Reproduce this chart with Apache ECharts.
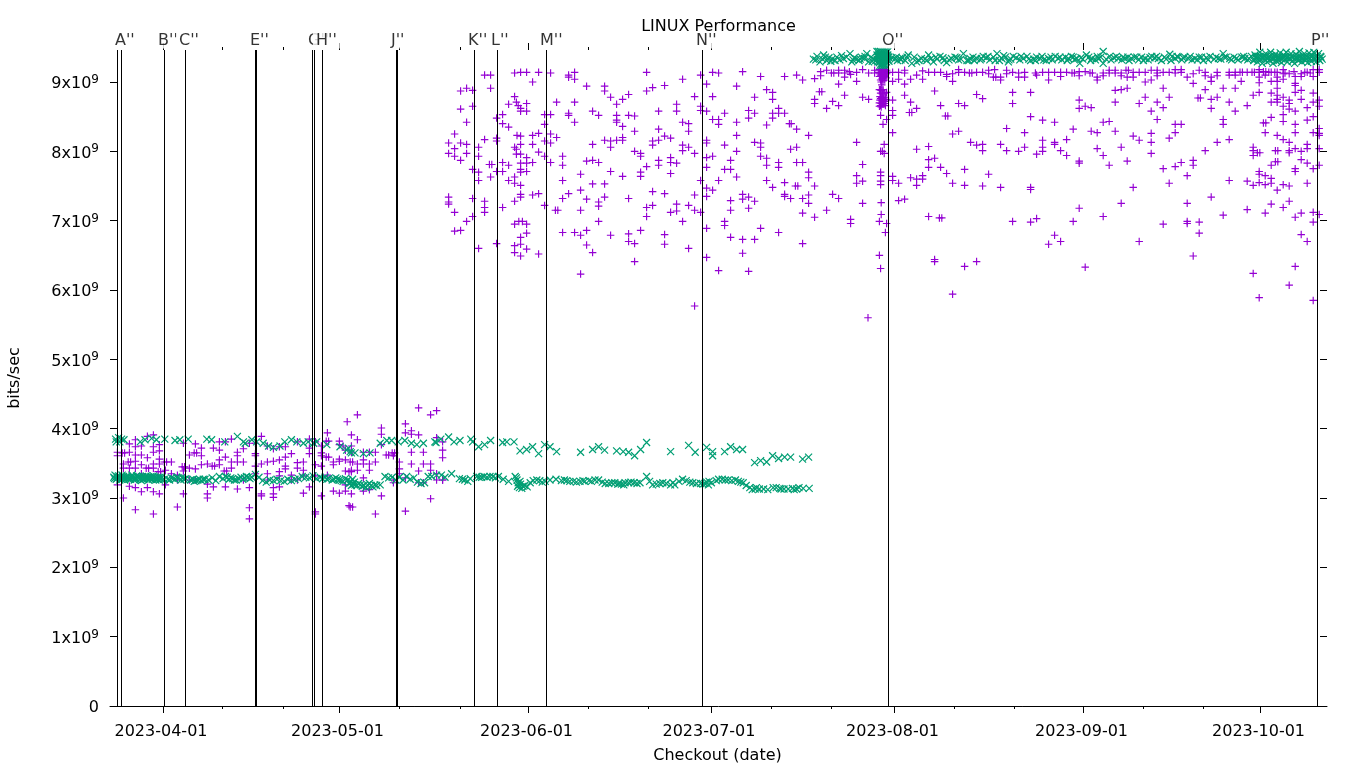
<!DOCTYPE html>
<html><head><meta charset="utf-8">
<style>html,body{margin:0;padding:0;background:#fff}#c{width:1360px;height:768px}</style>
<script src="https://cdn.jsdelivr.net/npm/echarts@6/dist/echarts.min.js"></script>
</head><body><div id="c"></div>
<script>
// x is the position on the date axis in days after the 2023-04-01 tick; y is in units of 1e9 bits/sec
const xMajorTicks=[0,29.42,60.92,91.33,121.92,153.42,182.92];
const xMajorLabels=['2023-04-01','2023-05-01','2023-06-01','2023-07-01','2023-08-01','2023-09-01','2023-10-01'];
const xMinorTicks=[9.92,20.08,39.42,49.58,70.92,80.92,101.33,111.42,131.92,141.92,163.42,173.42];
const yTicks=[0,1,2,3,4,5,6,7,8,9];
const checkoutDays=[-7.583,-6.917,0.25,3.75,15.417,15.583,24.917,25.25,26.583,38.917,39.083,51.917,55.75,63.917,89.917,120.917,192.417];
const checkoutLabels=[[-6.917,"A''"],[0.25,"B''"],[3.75,"C''"],[15.583,"E''"],[25.25,"G''"],[26.583,"H''"],[39.083,"J''"],[51.917,"K''"],[55.75,"L''"],[63.917,"M''"],[89.917,"N''"],[120.917,"O''"],[192.417,"P''"]];

const purpleMiddle=[[53.6,9.10],[54.6,9.10],[58.6,9.13],[59.6,9.14],[60.6,9.14],[62.6,9.14],[64.6,9.13],[67.6,9.10],[67.6,9.07],[68.6,9.14],[68.6,9.04],[80.6,9.14],[86.6,9.04],[89.6,9.10],[91.6,9.14],[92.6,9.13],[96.6,9.15],[99.6,9.08],[103.6,9.08],[105.6,9.10],
[61.6,9.00],[70.6,8.94],[73.6,8.94],[73.6,8.87],[81.6,8.92],[83.6,8.95],[80.6,8.87],[77.6,8.82],[88.6,8.79],[90.6,8.97],[95.6,8.94],[100.6,8.89],[101.6,8.85],[98.6,8.78],[101.6,8.75],[91.6,8.79],[49.6,8.87],[50.6,8.91],[51.6,8.88],[54.6,8.91],
[58.6,8.79],[74.6,8.78],[76.6,8.75],[75.6,8.68],[85.6,8.68],[85.6,8.58],[65.6,8.71],[68.6,8.71],[57.6,8.68],[58.9,8.71],[59.2,8.66],[60.6,8.69],[59.6,8.62],[59.6,8.58],[60.6,8.58],[49.6,8.61],[51.6,8.65],[89.6,8.65],[89.6,8.59],[90.6,8.58],[93.6,8.55],[97.6,8.59],[98.6,8.55],[101.6,8.55],[102.6,8.62],[102.6,8.55],[103.6,8.55],
[56.6,8.53],[55.6,8.48],[56.6,8.40],[57.6,8.35],[63.6,8.53],[64.6,8.53],[67.6,8.55],[67.6,8.52],[71.6,8.58],[72.6,8.52],[75.6,8.52],[77.6,8.52],[78.6,8.51],[82.6,8.58],[50.6,8.42],[63.6,8.39],[68.6,8.42],[75.6,8.45],[75.6,8.42],[76.6,8.36],[86.6,8.42],[87.6,8.40],[91.6,8.46],[92.6,8.46],[92.6,8.39],[95.6,8.42],[97.6,8.48],[101.6,8.48],[100.6,8.38],[104.4,8.40],[104.7,8.40],[105.6,8.32],
[48.6,8.25],[78.6,8.29],[82.6,8.32],[87.6,8.29],[95.6,8.23],
[53.6,8.17],[55.6,8.19],[55.6,8.15],[59.6,8.22],[59,8.23],[61.6,8.23],[62.6,8.26],[64.6,8.25],[65.6,8.20],[73.6,8.16],[74.6,8.15],[75.6,8.16],[76.6,8.20],[76.6,8.16],[83.6,8.22],[84.6,8.19],[82.6,8.16],[81.6,8.15],[81.6,8.09],[90.6,8.16],[90.6,8.12],[98.6,8.13],[99.6,8.12],[99.6,8.06],
[47.6,8.12],[48.6,8.04],[49.6,8.12],[50.6,8.10],[52.6,8.06],[58.6,8.06],[59.6,8.10],[61.6,8.10],[63.6,8.15],[64.6,8.12],[71.6,8.10],[74.6,8.06],[86.6,8.09],[87.6,8.06],[86.6,8.01],[93.6,8.09],[95.6,8.00],[104.6,8.03],[105.6,8.06],
[47.6,7.97],[48.6,7.93],[49.6,7.87],[50.6,7.97],[52.6,7.93],[58.9,8.03],[58.9,7.96],[59.6,7.96],[62.6,7.99],[60.6,7.91],[63.6,7.93],[66.6,7.93],[78.6,8.00],[79.6,7.97],[79.6,7.93],[88.6,7.97],[90.6,7.91],[91.6,7.93],[99.6,7.93],[94.6,7.87],[100.6,7.90],
[56.6,7.84],[57.6,7.80],[54.4,7.81],[54.8,7.81],[59.6,7.83],[60.6,7.83],[61.6,7.84],[64.6,7.84],[66.6,7.80],[70.6,7.86],[71.6,7.87],[72.6,7.84],[80.6,7.78],[82.6,7.87],[82.6,7.80],[84.6,7.91],[84.6,7.84],[85.6,7.83],[90.6,7.77],[100.6,7.80],[102.6,7.84],[102.6,7.77],[105.6,7.84],
[51.6,7.74],[52.6,7.70],[55.6,7.71],[56.6,7.71],[54.6,7.63],[52.6,7.58],[59.6,7.74],[59.6,7.70],[60.6,7.71],[69.6,7.67],[74.6,7.71],[76.6,7.64],[79.6,7.70],[79.6,7.64],[84.6,7.68],[93.6,7.74],[94.6,7.74],[95.6,7.63],[57.6,7.58],[58.6,7.63],[58.6,7.54],[59.6,7.51],[66.6,7.58],[89.6,7.58],[92.6,7.58],[100.6,7.58],[103.6,7.55],
[71.6,7.53],[73.6,7.53],[90.6,7.47],[91.6,7.44],[101.6,7.48],[105.4,7.50],[105.8,7.50],[69.6,7.44],[81.6,7.42],[83.6,7.39],[67.6,7.39],[66.6,7.32],[59.6,7.38],[59.6,7.34],[61.6,7.37],[62.6,7.39],[88.6,7.37],[90.6,7.35],[96.6,7.38],[103.6,7.38],[103.6,7.35],
[47.6,7.34],[51.6,7.32],[47.6,7.27],[47.6,7.24],[53.6,7.28],[58.6,7.28],[53.6,7.19],[56.6,7.19],[63.6,7.22],[70.6,7.31],[72.6,7.27],[73.6,7.34],[77.6,7.32],[72.6,7.21],[81.6,7.22],[80.6,7.19],[85.6,7.24],[85.6,7.14],[87.6,7.22],[94.6,7.29],[96.6,7.31],[97.6,7.34],[98.6,7.28],[104.6,7.32],
[48.6,7.12],[53.6,7.12],[51.6,7.06],[65.4,7.15],[65.8,7.15],[69.6,7.15],[80.6,7.06],[84.6,7.12],[88.6,7.15],[89.6,7.12],[94.6,7.15],[97.6,7.18],
[50.6,6.99],[48.6,6.85],[49.6,6.86],[58.6,6.95],[59.3,6.99],[59.9,6.99],[60.6,6.95],[72.6,6.99],[86.6,6.99],[93.6,6.99],[93.6,6.93],[99.6,6.89],[90.6,6.89],
[60.6,6.82],[59.6,6.76],[66.6,6.83],[68.6,6.83],[69.6,6.79],[70.6,6.86],[74.6,6.79],[77.6,6.81],[79.6,6.86],[83.6,6.80],[94.6,6.76],[96.6,6.73],[98.6,6.73],[102.6,6.83],
[52.6,6.60],[55.6,6.67],[58.6,6.64],[59.6,6.66],[58.6,6.54],[60.6,6.59],[59.6,6.49],[62.6,6.52],[70.6,6.65],[71.6,6.54],[77.6,6.70],[78.6,6.67],[83.6,6.66],[87.6,6.60],[90.6,6.47],[96.6,6.53],
[78.6,6.41],[69.6,6.23],[92.6,6.28],[97.6,6.27],[88.6,5.77]];

const purpleAugust=[[106.6,9.03],[108.6,9.05],[109.6,9.15],[109.6,9.09],[110.6,9.17],[111.4,9.13],[111.8,9.13],[112.6,9.17],[112.6,9.13],[113.6,9.17],[113.6,9.13],[113.6,9.07],[114.4,9.15],[114.6,9.11],[115.6,9.14],[115.6,9.01],[116.6,9.18],[117.6,9.13],[118.6,9.17],[118.6,9.13],
[119.6,9.14],[119.6,9.10],[119.6,9.03],[120,9.14],[120,9.1],[120.3,9.12],[120.6,9.12],[119.8,9.16],[120.2,9.08],[119.9,9.05],[120.4,9.15],[121.6,9.14],[121.6,9.01],[122.6,9.14],[122.6,9.04],[123.6,9.17],[123.6,9.13],[123.6,8.97],[124.6,9.04],[125.6,9.10],[126.6,9.16],[126.6,9.04],[127.6,9.14],[128.6,9.14],[129.6,9.14],[130.6,9.11],[130.6,9.08],[131.6,9.12],[131.6,9.01],[132.6,9.18],[132.6,9.14],[133.6,9.14],[134.4,9.13],[134.8,9.13],[135.6,9.14],[136.6,9.14],[137.6,9.17],[137.6,9.12],[138.6,9.18],[138.4,9.07],[138.8,9.07],[139.6,9.07],[139.6,9.03],[140.6,9.17],[140.6,9.12],[141.6,9.14],[142.6,9.13],[142.6,9.07],[143.6,9.14],[143.6,9.07],[145.6,9.10],[145.4,9.13],[146.6,9.14],[147.6,9.14],[147.6,9.03],[148.6,9.14],[149.6,9.14],[149.6,9.08],[150.6,9.14],
[112.6,8.97],[109.4,8.86],[109.8,8.86],[108.6,8.75],[108.6,8.69],[113.6,8.81],[111.6,8.72],[112.6,8.66],[110.6,8.62],[116.6,8.78],[117.6,8.75],[119.6,8.89],[120,8.89],[120.6,8.85],[119.6,8.76],[119.9,8.72],[120.2,8.72],[120.5,8.75],[119.6,8.66],[120.4,8.66],[120,8.69],[119.8,8.78],[121.6,8.74],[123.6,8.81],[124.6,8.71],[125.6,8.62],[128.6,8.87],[129.6,8.66],[132.6,8.69],[133.6,8.66],[135.6,8.82],[136.6,8.76],[141.6,8.85],[141.6,8.69],[144.6,8.85],
[124.4,8.56],[124.8,8.56],[121.6,8.59],[121.6,8.52],[119.6,8.52],[120.6,8.46],[120,8.39],[130.4,8.51],[130.8,8.51],[121.6,8.27],[131.6,8.25],[132.6,8.29],[140.6,8.33],[144.6,8.50],[146.6,8.45],[148.6,8.42],[143.6,8.27],[107.6,8.23],[115.6,8.13],[120.2,8.10],[125.6,8.03],[127.6,8.07],[134.6,8.13],[135.6,8.09],[136.6,8.10],[136.6,8.01],[139.6,8.10],[140.6,8.01],[142.6,8.00],[143.6,8.06],[146.6,8.16],[146.6,8.06],[146.6,8.00],[145.6,7.96],[148.6,8.13],[148.6,8.10],[149.6,8.01],[150.6,8.17],[150.6,7.94],[119.6,8.00],[119.9,8.00],[120.2,7.97],
[106.6,7.84],[116.6,7.81],[127.6,7.88],[127.6,7.77],[128.6,7.90],[129.6,7.77],[133.6,7.74],[130.6,7.68],[107.6,7.70],[107.6,7.62],[115.6,7.65],[115.6,7.54],[116.6,7.57],[119.6,7.70],[119.6,7.65],[119.6,7.57],[119.6,7.52],[121.6,7.64],[121.6,7.58],[122.6,7.54],[124.6,7.62],[125.6,7.60],[125.6,7.51],[126.6,7.65],[126.6,7.60],[137.6,7.67],[131.6,7.54],[133.6,7.51],[136.6,7.50],[139.6,7.48],[144.6,7.48],[144.6,7.45],[108.6,7.50],
[106.6,7.32],[107.6,7.37],[107.6,7.25],[111.6,7.38],[112.6,7.32],[116.6,7.25],[119.7,7.26],[122.6,7.29],[123.6,7.31],[106.6,7.11],[108.6,7.05],[110.6,7.15],[114.6,7.02],[114.6,6.96],[119.7,7.09],[119.4,6.99],[120.6,6.96],[127.6,7.06],[129.4,7.04],[129.8,7.04],[141.6,6.99],[144.6,6.98],[145.6,7.03],[120.4,6.83],[106.6,6.67],[119.4,6.50],[119.6,6.31],[128.6,6.44],[128.6,6.41],[133.6,6.34],[135.6,6.41],[148.6,6.79],[149.6,6.70],[147.6,6.66],[131.6,5.94],[117.5,5.60]];

const purpleClusterO=[[119.4,9.18],[119.7,9.18],[120,9.18],[120.3,9.18],[120.6,9.17],[119.3,9.14],[119.5,9.12],[119.8,9.12],[120.1,9.15],[120.4,9.12],[120.7,9.14],[119.4,9.08],[119.7,9.08],[120,9.06],[120.3,9.09],[120.5,9.06],[119.7,9.0],[120,9.02],[120.3,9.03],[119.8,8.96],
[119.4,8.89],[119.7,8.88],[120,8.87],[119.6,8.84],[119.9,8.83],[120.2,8.84],[119.5,8.79],[119.8,8.78],[120.1,8.77],[120.4,8.78],[119.5,8.74],[119.8,8.74],[120.1,8.73],[120.4,8.72],[119.4,8.70],[119.7,8.69],[120,8.68],[120.3,8.69],[119.4,8.65],[119.7,8.64]];

const purpleSeptember=[[151.5,9.13],[151.9,9.13],[152.7,9.15],[152.7,9.09],[153.7,9.15],[154.5,9.13],[154.9,9.13],[155.7,9.07],[155.7,9.03],[156.7,9.13],[156.7,9.09],[157.7,9.17],[157.7,9.13],[158.7,9.17],[158.7,9.13],[159.7,9.13],[159.7,9.09],[160.5,9.17],[160.9,9.17],[160.7,9.07],[161.7,9.14],[161.7,9.07],[162.7,9.14],[163.7,9.14],[163.7,9.00],[164.7,9.17],[164.7,9.03],[165.7,9.17],[165.7,9.13],[165.7,9.09],[166.7,9.14],[167.7,9.14],[168.7,9.18],[168.7,9.13],[169.7,9.18],[169.7,9.14],[170.7,9.07],[171.7,9.12],[171.7,8.98],[172.7,9.17],[173.7,9.14],[173.7,9.09],[174.7,9.07],[174.7,9.01],[175.7,9.14],[175.7,9.09],[177.7,9.14],[177.7,9.10],[178.7,9.14],[178.7,9.10],[179.5,9.14],[179.9,9.14],[179.7,9.01],[180.7,9.14],[181.5,9.14],[181.9,9.14],[182.7,9.18],[182.7,9.14],[182.7,9.07],[182.7,8.99],[183.4,9.15],[183.8,9.15],[183.7,9.10],[184.7,9.14],[184.7,9.01],[185.7,9.14],[185.7,9.07],[185.7,9.01],[186.7,9.18],[186.7,9.12],[186.7,9.04],[187.7,9.12],[188.5,9.15],[188.7,9.08],[188.7,8.98],[189.7,9.12],[189.7,9.08],[190.7,9.14],[191.7,9.18],[191.7,9.08],[192.7,9.18],[192.7,9.14],[184.3,9.14],[185.3,9.14],[187,9.13],[190.3,9.14],[191.2,9.13],
[158.7,8.88],[159.7,8.89],[160.7,8.91],[166.7,8.91],[173.7,8.89],[176.7,8.91],[178.7,8.91],[181.7,8.81],[182.7,8.85],[184.7,8.84],[185.7,8.91],[185.7,8.81],[188.7,8.95],[188.7,8.85],[189.7,8.88],[191.7,8.84],
[152.7,8.74],[152.7,8.62],[153.7,8.65],[154.7,8.63],[158.7,8.71],[162.7,8.69],[163.7,8.78],[164.7,8.58],[165.7,8.71],[166.7,8.63],[167.7,8.78],[172.5,8.77],[172.9,8.77],[174.7,8.75],[174.7,8.62],[175.7,8.78],[177.7,8.71],[178.7,8.58],[180.7,8.66],[184.7,8.71],[185.7,8.75],[185.7,8.71],[186.7,8.78],[186.7,8.65],[187.7,8.74],[187.7,8.69],[187.7,8.61],[188.7,8.58],[189.7,8.75],[190.7,8.63],[191.7,8.71],[192.7,8.74],[192.7,8.65],
[165.7,8.46],[156.7,8.42],[157.7,8.43],[168.7,8.39],[169.7,8.39],[176.7,8.46],[176.7,8.39],[183.4,8.41],[183.8,8.41],[184.7,8.49],[186.7,8.53],[186.7,8.43],[191.7,8.50],[190.7,8.45],[188.7,8.39],
[151.7,8.32],[154.7,8.29],[155.7,8.27],[158.7,8.29],[161.7,8.22],[162.7,8.16],[164.7,8.26],[164.7,8.13],[167.7,8.19],[168.7,8.27],[175.7,8.13],[177.7,8.17],[183.7,8.27],[185.7,8.23],[186.7,8.17],[187.7,8.13],[188.7,8.27],[191.7,8.27],[192.7,8.33],[192.7,8.26],[192.7,8.23],
[155.7,8.04],[159.7,8.06],[156.7,7.94],[164.7,7.97],[173.7,8.01],[181.7,8.06],[181.7,8.01],[181.7,7.94],[182.4,7.98],[182.8,7.98],[185.4,8.01],[185.8,8.01],[187.7,8.01],[187.7,7.98],[188.7,8.04],[189.7,8.00],[190.7,8.10],[190.7,8.04],[192.7,8.04],
[152.7,7.86],[152.7,7.83],[157.7,7.80],[160.7,7.86],[166.7,7.75],[168.7,7.78],[169.7,7.84],[171.7,7.87],[171.7,7.80],[170.7,7.65],[189.7,7.88],[185.4,7.85],[185.8,7.85],[184.7,7.80],[190.7,7.83],[191.7,7.75],[192.7,7.80],[188.7,7.75],[188.7,7.71],
[182.7,7.71],[182.7,7.67],[183.7,7.65],[184.7,7.61],[184.7,7.54],[177.7,7.58],[180.7,7.57],[181.7,7.51],[182.7,7.55],[183.7,7.52],[186.7,7.52],[187.7,7.50],[190.7,7.54],[167.7,7.54],[161.7,7.48],[185.7,7.44],
[174.7,7.34],[159.7,7.25],[170.7,7.25],[152.7,7.18],[156.7,7.06],[180.7,7.16],[176.7,7.08],[184.7,7.24],[183.7,7.11],[186.7,7.19],[187.7,7.28],[188.7,7.05],[189.7,7.11],[191.7,7.12],[192.7,7.09],
[151.7,6.99],[166.7,6.95],[170.7,6.99],[170.7,6.96],[172.7,6.98],[191.7,6.98],[172.7,6.82],[162.7,6.70],[189.7,6.80],[190.7,6.70],[171.7,6.49],[153.7,6.33],[181.7,6.24],[188.7,6.34],[187.7,6.07],[182.7,5.89],[191.7,5.85]];

const purpleLower=[[16.4,3.89],[-2.6,3.89],[-1.6,3.91],[11.4,3.85],[24.4,3.85],[27.4,3.94],[27.2,3.82],[27.6,3.82],[29.4,3.82],[31.4,3.91],[32.4,3.84],[30.7,4.10],[32.4,4.20],[36.4,4.01],[36.4,3.92],[40.4,4.07],[40.4,3.94],[41.4,3.97],[41.4,3.92],[42.6,3.91],[44.6,4.20],[42.6,4.30],[45.6,4.26],[45.6,3.87],
[-5.6,3.78],[-4.6,3.84],[-4.6,3.74],[-5.6,3.66],[-3.6,3.75],[-1.6,3.74],[-0.6,3.77],[-0.6,3.68],[-1.6,3.66],[-6.8,3.65],[-6.4,3.65],[-7.6,3.66],[-7.6,3.61],[-4.6,3.62],[-3.6,3.62],[-2.6,3.58],[-4.6,3.53],[-5.8,3.52],[-5.4,3.52],[-6.6,3.49],[-6.6,3.43],[-5.6,3.43],[-3.6,3.48],[-1.6,3.49],[-0.6,3.56],[-0.6,3.49],[0.2,3.52],[0.6,3.52],[1.4,3.52],[-1.6,3.43],[-2.8,3.43],[-2.4,3.43],[-4.6,3.43],[-3.6,3.35],[-0.8,3.38],[-0.4,3.38],[0.4,3.40],[1.4,3.35],[2.4,3.33],
[3.4,3.79],[5.4,3.78],[6.4,3.72],[8.4,3.72],[9.4,3.81],[9.4,3.69],[10.4,3.81],[5.2,3.65],[5.6,3.65],[4.4,3.62],[6.4,3.61],[10.4,3.59],[9.4,3.55],[12.4,3.66],[12.4,3.61],[13.4,3.71],[14.4,3.79],[15.4,3.79],[15.4,3.64],[15.4,3.61],[13.4,3.52],[12.4,3.52],[11.4,3.52],[6.4,3.48],[7.4,3.49],[8.2,3.46],[8.6,3.46],[4.4,3.43],[5.4,3.42],[3.2,3.45],[3.6,3.45],[3.4,3.39],[9.4,3.48],[11.4,3.43],[10.2,3.39],[10.6,3.39],[15.4,3.46],
[17.4,3.75],[18.4,3.71],[19.4,3.74],[20.4,3.74],[22.4,3.81],[21.4,3.64],[20.4,3.59],[19.4,3.55],[18.4,3.53],[17.4,3.52],[16.4,3.49],[20.4,3.46],[20.4,3.42],[22.4,3.51],[23.4,3.52],[22.4,3.43],[23.4,3.40],[24.4,3.72],[24.4,3.64],[25.4,3.81],[26.4,3.75],[26.4,3.65],[26.4,3.61],[27.2,3.59],[27.6,3.59],[28.4,3.52],[28.4,3.48],[29.4,3.56],[29.4,3.53],[30.4,3.55],[25.4,3.48],[26.4,3.46],[29.4,3.77],[30,3.75],[30.4,3.69],[31.4,3.66],[31.4,3.75],[33.4,3.66],[33.4,3.55],[33.4,3.49],[34.4,3.66],[35.4,3.66],[35.4,3.52],[34.4,3.49],[34.4,3.40],[32.4,3.49],[31.2,3.52],[31.6,3.52],[32.4,3.40],[31.4,3.40],[30.4,3.39],[31,3.38],[31.4,3.38],[17.4,3.35],[19.4,3.38],[19.4,3.32],[21.4,3.33],[23.4,3.33],[25.4,3.32],[27.4,3.33],
[37.2,3.62],[37.6,3.62],[38.2,3.65],[38.6,3.65],[38.4,3.61],[36.4,3.77],[39.4,3.52],[39.4,3.42],[39.4,3.35],[41.4,3.66],[41.4,3.49],[43.4,3.49],[43.4,3.66],[42.6,3.39],[44.6,3.49],[44.6,3.40],[46.6,3.81],[46.6,3.69],[46.6,3.58],[45.6,3.35],[46.6,3.26],
[-7.6,3.19],[-5.6,3.17],[-4.6,3.15],[-6.6,3.00],[-3.6,3.09],[-2.6,3.15],[-1.6,3.09],[-0.6,3.06],[0.4,3.19],[3.4,3.06],[2.4,2.87],[-1.6,2.77],[-4.6,2.83],[2.4,3.26],[5.4,3.26],[4.4,3.26],[7.4,3.20],[7.4,3.06],[7.4,3.00],[8.4,3.16],[10.4,3.16],[12.4,3.13],[14.4,3.15],[13.4,3.26],[15.4,3.35],[17.4,3.26],[16.4,3.06],[16.4,3.03],[18.4,3.15],[18.4,3.06],[18.4,3.01],[19.4,3.16],[14.4,2.86],[14.4,2.70],[21.4,3.26],[22.4,3.26],[23.4,3.07],[24.4,3.16],[26.4,3.03],[25.4,2.80],[25.4,2.77],[28.4,3.10],[29.4,3.07],[30.4,3.10],[30.4,3.19],[31.4,3.06],[33.4,3.29],[33.4,3.10],[34.4,3.12],[36.4,3.03],[35.4,2.77],[31,2.89],[31.2,2.87],[31.6,2.87],[40.4,2.81],[40.4,3.29],[38.4,3.26],[38.4,3.22],[42.6,3.22],[43.4,3.22],[44.6,2.99],[45.6,3.26],[46.6,3.26]];

const greenUpperLow=[[-7.9,3.85],[-7.4,3.87],[-6.9,3.85],[-6.5,3.84],[-7.8,3.81],[-7.2,3.81],[-3.8,3.81],[-3,3.84],[-1.9,3.86],[-1.1,3.84],[0.3,3.85],[2,3.83],[2.8,3.84],[4.2,3.85],[7.3,3.85],[8.1,3.84],[10.3,3.81],[12.4,3.89],[13.4,3.81],[13.7,3.79],[14.8,3.84],[15.6,3.81],[16.7,3.79],[17.6,3.75],[18.4,3.73],[19.5,3.75],[20.3,3.81],[21.4,3.84],[22.3,3.81],[23.4,3.79],[24.2,3.81],[25.1,3.79],[25.6,3.81],[27.3,3.77],[29.5,3.74],[30.6,3.69],[31.2,3.67],[30.9,3.72],[31.4,3.65],[32,3.65],[33.4,3.64],[34.5,3.65],[36.2,3.79],[37.3,3.83],[38.1,3.83],[39.2,3.81],[40.3,3.83],[41.4,3.79],[42.3,3.77],[43.4,3.79],
[45.3,3.81],[45.5,3.80],[46.3,3.85],[47.6,3.88],[48.5,3.81],[49.5,3.83],[51.3,3.85],[51.6,3.81],[52.6,3.74],[53.6,3.77],[54.6,3.83],[56.6,3.80],[57.3,3.81],[58.5,3.81],[59.5,3.68],[60.6,3.70],[61.6,3.74],[62.6,3.64],[63.6,3.77],[64.5,3.74],[65.6,3.67],[69.6,3.66],[71.6,3.70],[72.6,3.74],[73.6,3.69],[75.6,3.68],[76.7,3.67],[77.6,3.66],[78.6,3.61],[79.6,3.70],[80.6,3.80],[84.6,3.67],[87.6,3.76],[88.7,3.66],[90.6,3.73],[91.6,3.67],[91.6,3.61],[93.6,3.67],[94.6,3.74],[95.6,3.70],[96.6,3.70],[98.6,3.51],[99.6,3.54],[100.6,3.52],[101.6,3.61],[102.6,3.57],[103.6,3.59],[104.6,3.59],[106.6,3.56],[107.6,3.59]];

const greenLowerEarly=[[-8.2,3.30],[-7.8,3.27],[-7.4,3.32],[-7,3.29],[-6.6,3.31],[-6.2,3.28],[-5.8,3.30],[-5.4,3.27],[-5,3.31],[-4.6,3.29],[-4.2,3.30],[-3.8,3.27],[-3.4,3.31],[-3,3.29],[-2.6,3.28],[-2.2,3.30],[-1.8,3.27],[-1.4,3.30],[-1,3.28],[-0.6,3.26],[-0.2,3.30],[0.2,3.27],[0.8,3.27],[1.4,3.29],[2,3.27],[2.6,3.29],[3.2,3.30],[3.8,3.28],[4.6,3.26],[5.2,3.24],[5.8,3.26],[6.4,3.25],[7,3.27],[7.6,3.26],[8.2,3.29],[8.8,3.25],[9.4,3.31],[10,3.28],[10.4,3.31],[11,3.27],[11.6,3.28],[12.2,3.26],[13,3.30],[13.6,3.29],[14.2,3.30],[14.8,3.30],[15.4,3.34],[16,3.30],[16.6,3.25],[17.2,3.23],[17.8,3.26],[18.4,3.25],[19,3.27],[19.6,3.25],[20.2,3.24],[20.8,3.27],[21.4,3.25],[22,3.27],[22.6,3.28],[23.2,3.31],[23.8,3.30],[24.4,3.29],[25,3.32],[25.6,3.28],[26.2,3.30],[27,3.30],[27.6,3.28],[28.2,3.26],[28.8,3.29],[29.4,3.26],[30,3.24],[30.4,3.28],[30.8,3.26],[31.2,3.22],[31.6,3.27],[31.4,3.18],[32,3.19],[32.6,3.21],[33.2,3.17],[33.8,3.15],[34.4,3.21],[35,3.16],[35.6,3.18],[36.2,3.19],[37,3.31],[37.6,3.29],[38.2,3.30],[38.8,3.26],[39.4,3.30],[40,3.26],[40.6,3.31],[41.2,3.27],[41.8,3.29],[42.4,3.23],[43,3.21],[43.6,3.22],[44.2,3.31],
[-8,3.33],[-7.6,3.29],[-7.2,3.26],[-6.8,3.33],[-6.4,3.26],[-6,3.32],[-5.6,3.29],[-5.2,3.33],[-4.8,3.26],[-4.4,3.32],[-4,3.29],[-3.6,3.25],[-3.2,3.27],[-2.8,3.32],[-2.4,3.26],[-2,3.31],[-1.6,3.32],[-1.2,3.26],[-0.8,3.30],[-0.4,3.28],[31,3.21],[31.3,3.24],[31.7,3.20],[31.9,3.23],
[-8.1,3.28],[-7.7,3.31],[-7.3,3.30],[-6.9,3.27],[-6.5,3.29],[-6.1,3.30],[-5.7,3.27],[-5.3,3.30],[-4.9,3.29],[-4.5,3.27],[-4.1,3.31],[-3.7,3.29],[-3.3,3.28],[-2.9,3.30],[-2.5,3.30],[-2.1,3.28],[-1.7,3.30],[-1.3,3.28],[-0.9,3.27],[-0.5,3.30],[1.1,3.26],[1.7,3.28],[2.3,3.30],[3,3.26],[3.5,3.27],[5,3.27],[5.5,3.25],[6.1,3.27],[6.7,3.27],[10.7,3.30],[11.3,3.29],[11.9,3.26],[12.6,3.28],[13.3,3.27],[13.9,3.31],[14.5,3.28],[26.6,3.28],[27.3,3.27],[28.5,3.27],[29.1,3.27],[29.7,3.25],[32.3,3.18],[32.9,3.19],[33.5,3.18],[34.1,3.19],[34.7,3.18],[35.3,3.19]];

const greenLowerLate=[[44.8,3.31],[45.6,3.33],[46.4,3.33],[47,3.30],[48.1,3.35],[49.4,3.28],[50.3,3.26],[51.2,3.28],[52.3,3.31],[53.1,3.30],[54,3.30],[55,3.31],[55.9,3.31],[56.7,3.27],[57.6,3.24],[58.7,3.31],[59,3.26],[59.4,3.15],[60.3,3.18],[61.7,3.25],[62.8,3.25],[63.7,3.24],[64.5,3.26],[65.5,3.27],[66.4,3.25],[67.3,3.25],[68.4,3.24],[69.5,3.24],[70.3,3.24],[71.4,3.24],[72.6,3.26],[73.7,3.21],[74.8,3.22],[76.4,3.20],[77.6,3.22],[78.5,3.22],[79.5,3.22],[80.6,3.31],[81.6,3.19],[82.8,3.21],[83.9,3.21],[85.3,3.19],[86.6,3.27],[87.8,3.23],[88.9,3.21],[90.3,3.21],[91.4,3.22],[92.6,3.27],[93.7,3.26],[94.8,3.25],[95.9,3.24],[96.7,3.22],[97.8,3.15],[98.7,3.13],[100.1,3.13],[101.7,3.15],[102.8,3.14],[104.2,3.13],[105.6,3.13],[106.7,3.14],[107.7,3.14],
[49.9,3.27],[50.8,3.24],[52.7,3.30],[53.5,3.31],[54.5,3.31],[55.4,3.29],[59.6,3.20],[59.8,3.14],[60,3.17],[60.7,3.16],[59.2,3.22],[61.2,3.22],[62.3,3.26],[63.2,3.23],[66.9,3.26],[67.8,3.24],[68.9,3.23],[70,3.25],[71,3.25],[72,3.26],[76,3.21],[76.8,3.19],[77,3.22],[78,3.23],[79,3.21],[90,3.20],[90.6,3.23],[90.9,3.19],[91,3.24],[92.2,3.25],[93.2,3.27],[95.4,3.26],[97.2,3.18],[98.2,3.12],[98.9,3.15],[103.5,3.13],[104.9,3.14],[105.2,3.12],[106,3.15],
[59.3,3.19],[59.5,3.24],[58.9,3.29],[59.1,3.17],[74.3,3.21],[75.3,3.22],[75.8,3.20],[73.2,3.23],[81.1,3.24],[82.2,3.20],[83.3,3.22],[84.6,3.19],[85,3.22],[86,3.24],[87.2,3.25],[88.3,3.22],[89.6,3.21],[94.2,3.26],[96.3,3.23],[99.4,3.13],[100.8,3.12],[102.2,3.15],[103,3.13]];

const greenClusterO=[[119,9.44],[119.3,9.44],[119.6,9.44],[119.9,9.44],[120.2,9.44],[120.5,9.44],[120.8,9.44],[119,9.39],[119.3,9.40],[119.6,9.37],[119.9,9.37],[120.2,9.37],[120.5,9.40],[120.8,9.39],[119,9.33],[119.3,9.35],[119.6,9.32],[119.9,9.32],[120.2,9.32],[120.5,9.35],[120.8,9.33],[119.1,9.29],[119.4,9.29],[119.7,9.27],[120,9.27],[120.3,9.27],[120.6,9.29],[119.5,9.24],[119.8,9.24],[120.1,9.24],[120.4,9.24],[119.15,9.36],[120.95,9.36]];

const greenTopAugust=[[108.4,9.33],[109,9.37],[109.5,9.29],[110.1,9.39],[110.6,9.31],[111.5,9.33],[112.3,9.36],[112.8,9.32],[113.4,9.34],[114.5,9.41],[114.8,9.29],[115.6,9.33],[116.4,9.36],[117.3,9.41],[117.6,9.29],[118.4,9.33],[119.2,9.38],[119.4,9.33],[119.4,9.28],[119.6,9.40],[119.7,9.35],[119.9,9.30],[120,9.26],[120.1,9.39],[120.2,9.34],[120.4,9.29],[120.6,9.37],[120.7,9.32],[120.9,9.36],[121,9.30],[122,9.33],[122.8,9.34],[124.2,9.39],[124.8,9.27],[125.6,9.29],[126.4,9.34],[127.6,9.39],[128.4,9.29],[129.5,9.37],[130.6,9.28],[131.4,9.34],[132.6,9.32],[133.4,9.41],[134.5,9.34],[135.6,9.34],[136.7,9.37],[137.8,9.32],[139,9.41],[139.8,9.34],[140.9,9.29],[141.7,9.37],[142.8,9.32],[144,9.37],[145.1,9.33],[146.2,9.34],[147.6,9.34],[148.7,9.37],[149.8,9.32],[150.9,9.34],
[108.8,9.32],[109.9,9.33],[111,9.35],[112,9.31],[113.9,9.36],[115.2,9.35],[116,9.31],[116.9,9.34],[118,9.36],[118.8,9.31],[121.5,9.35],[122.4,9.31],[123.2,9.35],[123.7,9.31],[125.2,9.36],[126,9.31],[127,9.33],[128,9.34],[129,9.33],[130,9.35],[131,9.32],[132,9.36],[133,9.33],[134,9.31],[135,9.36],[136.2,9.32],[137.2,9.35],[138.4,9.36],[139.4,9.31],[140.4,9.36],[141.3,9.33],[142.2,9.35],[143.4,9.34],[144.6,9.31],[145.6,9.36],[146.8,9.32],[148.2,9.32],[149.2,9.34],[150.4,9.36],
[110.4,9.36],[111.3,9.30],[113.1,9.38],[115,9.32],[116.2,9.33],[117,9.37],[118.2,9.30],[122.2,9.36],[123,9.32],[124,9.36],[127.3,9.31],[128.8,9.36],[130.2,9.31],[132.3,9.35],[134.3,9.31],[135.2,9.31],[136.4,9.34],[137.5,9.37],[138.7,9.31],[140.1,9.38],[141,9.32],[143,9.37],[144.3,9.33],[145.4,9.31],[146.5,9.37],[147.2,9.31],[148,9.36],[149.5,9.36],[150.7,9.31]];

const greenTopSeptember=[[151.4,9.37],[152.3,9.34],[152.8,9.27],[153.9,9.39],[154.8,9.34],[155.9,9.34],[156.7,9.44],[156.7,9.27],[157.8,9.37],[159.2,9.34],[160.3,9.34],[161.4,9.34],[162.6,9.32],[163.7,9.34],[164.8,9.37],[165.9,9.34],[167.8,9.40],[168.7,9.34],[169.8,9.32],[170.9,9.34],[172,9.34],[173.4,9.31],[174.5,9.37],[175.9,9.34],[176.7,9.41],[177.8,9.34],[179.2,9.32],[180.3,9.34],[181.4,9.37],
[151.9,9.32],[153.3,9.33],[154.3,9.36],[155.4,9.32],[156.3,9.36],[157.2,9.33],[158.5,9.35],[159.8,9.32],[160.8,9.36],[161.9,9.36],[163.1,9.36],[164.2,9.32],[165.3,9.35],[166.4,9.31],[167.2,9.33],[168.2,9.37],[169.2,9.36],[170.3,9.36],[171.5,9.32],[172.7,9.36],[173.9,9.35],[175.2,9.33],[176.3,9.33],[177.2,9.36],[178.5,9.36],[179.8,9.36],[180.8,9.32],
[151.7,9.36],[153,9.35],[154.6,9.31],[155.7,9.37],[158,9.32],[158.9,9.37],[160,9.36],[161,9.31],[162.3,9.36],[163.4,9.31],[164.5,9.35],[165.6,9.37],[166.9,9.36],[168,9.31],[169,9.37],[170,9.35],[171.2,9.37],[172.4,9.32],[173.1,9.36],[174.2,9.32],[175.5,9.36],[176.9,9.36],[178.1,9.32],[178.9,9.34],[180.1,9.37],[181,9.34],
[181.8,9.31],[182,9.39],[182.2,9.34],[182.4,9.29],[182.6,9.37],[182.8,9.43],[183,9.32],[183.2,9.27],[183.4,9.38],[183.6,9.33],[183.8,9.41],[184,9.29],[184.2,9.36],[184.4,9.31],[184.6,9.43],[184.8,9.38],[185,9.27],[185.2,9.34],[185.4,9.40],[185.6,9.30],[185.8,9.36],[186,9.31],[186.2,9.42],[186.4,9.28],[186.6,9.35],[186.8,9.39],[187,9.32],[187.2,9.43],[187.4,9.29],[187.6,9.37],[187.8,9.33],[188,9.41],[188.2,9.30],[188.4,9.36],[188.6,9.27],[188.8,9.40],[189,9.34],[189.2,9.31],[189.4,9.44],[189.6,9.37],[189.8,9.29],[190,9.34],[190.2,9.41],[190.4,9.31],[190.6,9.37],[190.8,9.28],[191,9.42],[191.2,9.34],[191.4,9.30],[191.6,9.38],[191.8,9.43],[192,9.33],[192.2,9.29],[192.4,9.37],[192.6,9.41],[192.8,9.31],[193,9.36],[193.2,9.33],
[182.1,9.36],[182.5,9.33],[182.9,9.37],[183.3,9.35],[183.7,9.37],[184.1,9.34],[184.5,9.37],[184.9,9.33],[185.3,9.37],[185.7,9.34],[186.1,9.36],[186.5,9.33],[186.9,9.36],[187.3,9.35],[187.7,9.34],[188.1,9.37],[188.5,9.33],[188.9,9.36],[189.3,9.37],[189.7,9.34],[190.1,9.37],[190.5,9.34],[190.9,9.36],[191.3,9.37],[191.7,9.34],[192.1,9.37],[192.5,9.34],[192.9,9.37]];

const PLUS='path://M0 3.5H7M3.5 0V7';
const CROSS='path://M0 0L7 7M7 0L0 7';
const FONT='"DejaVu Sans"';
const xMin=-53/6, xMax=194, yMax=9.462;
const ink='#000';
const xAxisBase={type:'value',min:xMin,max:xMax,splitLine:{show:false},axisLine:{show:false,onZero:false},axisLabel:{show:false}};
function tickAxis(pos,values,len){return Object.assign({},xAxisBase,{position:pos,axisTick:{show:true,length:len,lineStyle:{color:ink,width:1},customValues:values}});}
function yLabel(v){return v===0?'0':'{a|'+v+'x10}{b|9}';}
const marks=(data,symbol,color,z,bw)=>({type:'scatter',data,symbol,symbolSize:symbol===PLUS?7.5:7,z,animation:false,silent:true,
  itemStyle:{color:'transparent',borderColor:color,borderWidth:bw,opacity:1},clip:true});

const chart=echarts.init(document.getElementById('c'),null,{renderer:'canvas'});
chart.setOption({
  animation:false,
  backgroundColor:'#fff',
  textStyle:{fontFamily:FONT},
  title:{text:'LINUX Performance',left:713.5,top:14,textAlign:'center',textStyle:{fontFamily:FONT,fontSize:16,fontWeight:'normal',color:ink}},
  grid:{left:110,top:50,width:1217,height:656,containLabel:false,outerBoundsMode:'none'},
  xAxis:[
    Object.assign({},xAxisBase,{position:'bottom',name:'Checkout (date)',nameLocation:'middle',nameGap:42,
      nameTextStyle:{fontFamily:FONT,fontSize:16,color:ink,padding:[0,2,0,0]},
      axisLine:{show:true,onZero:false,lineStyle:{color:ink,width:1}},
      axisTick:{show:true,length:7,lineStyle:{color:ink},customValues:xMajorTicks},
      axisLabel:{show:true,customValues:xMajorTicks,margin:18,fontFamily:FONT,fontSize:16,color:ink,padding:[0,4,0,0],
        formatter:v=>xMajorLabels[xMajorTicks.indexOf(v)]||''}}),
    tickAxis('bottom',xMinorTicks,3),
    tickAxis('top',xMajorTicks,7),
    tickAxis('top',xMinorTicks,3)
  ],
  yAxis:[
    {type:'value',position:'left',min:0,max:yMax,name:'bits/sec',nameLocation:'middle',nameGap:87,nameRotate:90,
      nameTextStyle:{fontFamily:FONT,fontSize:16,color:ink},
      splitLine:{show:false},axisLine:{show:false,onZero:false},
      axisTick:{show:true,inside:true,length:7,lineStyle:{color:ink},customValues:yTicks},
      axisLabel:{show:true,customValues:yTicks,margin:11,fontFamily:FONT,fontSize:16,color:ink,formatter:yLabel,padding:[4,0,0,0],
        rich:{a:{fontFamily:FONT,fontSize:16,color:ink},b:{fontFamily:FONT,fontSize:12,color:ink,padding:[0,0,8,0]}}}},
    {type:'value',position:'right',min:0,max:yMax,splitLine:{show:false},axisLine:{show:false,onZero:false},axisLabel:{show:false},
      axisTick:{show:true,inside:true,length:7,lineStyle:{color:ink},customValues:yTicks}}
  ],
  series:[
    {type:'scatter',z:5,silent:true,animation:false,clip:false,symbolSize:1,itemStyle:{color:'transparent'},
      data:checkoutLabels.map(([d,n])=>({value:[d,yMax],name:n})),
      label:{show:true,formatter:'{b}',position:[-9,-18],color:ink,fontFamily:FONT,fontSize:16,backgroundColor:'#fff',padding:[1,3,0,3],lineHeight:16}},
    {type:'scatter',z:1,silent:true,animation:false,data:[],
      markLine:{silent:true,animation:false,symbol:'none',precision:4,label:{show:false},lineStyle:{color:ink,width:1,type:'solid'},
        data:checkoutDays.map(d=>({xAxis:d}))}},
    marks(purpleLower,PLUS,'#9400d3',2,1.15),
    marks(purpleMiddle,PLUS,'#9400d3',2,1.15),
    marks(purpleAugust,PLUS,'#9400d3',2,1.15),
    marks(purpleClusterO,PLUS,'#9400d3',2,1.15),
    marks(purpleSeptember,PLUS,'#9400d3',2,1.15),
    marks(greenUpperLow,CROSS,'#009e73',3,1.2),
    marks(greenLowerEarly,CROSS,'#009e73',3,1.2),
    marks(greenLowerLate,CROSS,'#009e73',3,1.2),
    marks(greenClusterO,CROSS,'#009e73',3,1.2),
    marks(greenTopAugust,CROSS,'#009e73',3,1.2),
    marks(greenTopSeptember,CROSS,'#009e73',3,1.2)
  ]
});
</script></body></html>
